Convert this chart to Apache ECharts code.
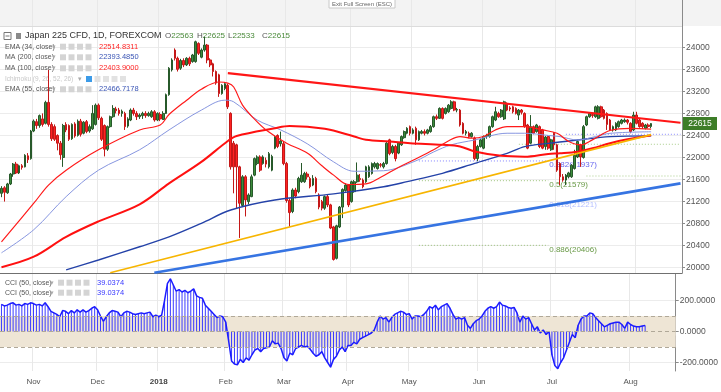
<!DOCTYPE html>
<html><head><meta charset="utf-8">
<script src="https://cdn.jsdelivr.net/npm/echarts@6/dist/echarts.min.js"></script>
<style>html,body{margin:0;padding:0;background:#fff}#c{width:721px;height:392px}</style>
</head><body><div id="c"></div>
<script>
// ---- data ----
const barCount = 232;
const barIndex = Array.from({length: barCount}, (_, i) => String(i));
const monthIndex = [11, 33, 54, 77, 97, 119, 140, 164, 189, 216];
const monthNames = ['Nov', 'Dec', '2018', 'Feb', 'Mar', 'Apr', 'May', 'Jun', 'Jul', 'Aug'];
const priceTicks = [20000, 20400, 20800, 21200, 21600, 22000, 22400, 22800, 23200, 23600, 24000];
const cciTicks = [-200, 0, 200];

const opens = [21350,21450,21360,21520,21700,21880,21720,21850,21830,22030,
21980,22480,22650,22580,22700,22620,23000,22600,22560,22400,
22260,22000,22600,22580,22340,22610,22400,22660,22440,22650,
22480,22520,22600,22950,22710,22580,22150,22560,22740,22880,
22860,22800,22800,22570,22680,22860,22800,22740,22760,22800,
22760,22740,22830,22680,22780,22690,22800,23140,23590,23950,
23800,23620,23760,23680,23800,23740,23740,24070,23820,23950,
24040,23770,23700,23560,23500,23160,23250,23310,22800,22260,
22230,21830,21130,21650,21200,21290,21680,21890,22010,21890,
21950,21830,21770,22170,22400,22250,22250,21890,21220,21020,
21410,21380,21560,21560,21700,21620,21500,21620,21320,21200,
21080,21290,21140,20740,20170,20740,21100,21400,21500,21200,
21380,21560,21620,21590,21560,21650,21710,21830,21800,21870,
21830,21890,22320,22090,22200,22080,22230,22360,22440,22560,
22440,22530,22320,22440,22470,22440,22470,22560,22740,22710,
22890,22800,22830,22890,23010,22860,22860,22620,22440,22440,
22380,22350,21980,22200,22170,22380,22380,22560,22680,22800,
22740,22700,22980,22900,22920,22890,22770,22860,22800,22590,
22260,22560,22470,22560,22500,22200,22380,22140,22440,22230,
21890,21650,21590,21650,21650,21800,22010,22230,22000,22590,
22740,22780,22740,22710,22920,22860,22800,22680,22500,22500,
22560,22620,22650,22680,22620,22500,22770,22680,22620,22530,
22590,22563];
const highs = [21480,21480,21540,21720,21900,21920,21870,21880,22060,22080,
22500,22690,22700,22780,22800,23030,23590,22640,22600,22420,
22300,22610,22640,22600,22620,22640,22690,22700,22660,22680,
22600,22950,22980,22980,22740,22600,22580,22760,22950,22920,
22900,22870,22830,22730,22890,22900,22840,22800,22830,22840,
22830,22860,22860,22820,22820,22840,23160,23640,23800,23980,
23830,23790,23800,23820,23830,23880,24120,24090,23980,24190,
24060,23800,23720,23580,23520,23330,23370,23340,22820,22300,
22250,21850,21680,21680,21350,21690,22000,22040,22040,22040,
22000,22100,22050,22400,22420,22470,22300,21920,21260,21440,
21450,21650,21900,21740,21740,21650,21680,21650,21350,21230,
21310,21320,21160,20760,20780,21120,21440,21530,21520,21580,
21590,21910,21700,21620,21850,21860,21910,21920,21910,21900,
21920,22280,22340,22230,22230,22280,22400,22490,22550,22580,
22530,22560,22490,22500,22510,22520,22590,22760,22780,22910,
22910,22910,22970,23040,23030,22900,22880,22640,22500,22470,
22460,22380,22230,22340,22400,22430,22580,22760,22920,22830,
22880,23030,23000,22930,22940,22910,22880,22880,22820,22610,
22770,22580,22610,22580,22520,22390,22400,22340,22460,22250,
21910,21700,21700,21740,21880,22140,22310,22250,22590,22760,
22820,22810,22940,22950,22940,22880,22820,22700,22580,22640,
22670,22700,22710,22700,22640,22830,22830,22700,22640,22610,
22620,22625];
const lows = [21280,21200,21340,21500,21650,21700,21700,21780,21820,21900,
21960,22460,22520,22540,22560,22600,22560,22300,22300,22130,
21960,21830,22460,22300,22320,22360,22380,22380,22420,22440,
22450,22500,22580,22680,22300,22020,22120,22540,22720,22800,
22760,22740,22500,22540,22660,22760,22680,22700,22700,22720,
22740,22720,22650,22660,22660,22680,22790,23120,23560,23760,
23560,23590,23640,23660,23660,23720,23720,23860,23800,23920,
23710,23640,23470,23320,23100,23140,23220,22880,21780,21350,
21080,20540,21100,20930,21150,21280,21660,21860,21740,21870,
21820,21800,21750,22150,22170,22200,21860,21180,20745,20990,
21260,21350,21540,21540,21600,21440,21480,21350,21060,21040,
21050,21100,20700,20130,20150,20720,20900,21380,21100,21180,
21360,21540,21560,21440,21540,21630,21690,21800,21780,21820,
21800,21870,22040,22060,21930,22060,22210,22340,22420,22400,
22420,22230,22300,22420,22400,22420,22450,22540,22680,22700,
22690,22780,22810,22870,22840,22820,22560,22420,22400,22350,
22360,21950,21930,22180,22150,22340,22360,22540,22660,22720,
22720,22680,22840,22840,22800,22780,22680,22780,22540,22150,
22240,22420,22450,22170,22150,22140,22140,22120,22140,21740,
21500,21560,21500,21620,21630,21780,21990,21830,21980,22570,
22720,22720,22720,22690,22720,22690,22500,22480,22470,22480,
22540,22600,22630,22600,22440,22480,22600,22540,22520,22510,
22530,22533];
const closes = [21440,21370,21520,21700,21880,21720,21850,21820,22040,21960,
22480,22660,22580,22760,22600,23000,22600,22340,22330,22260,
22050,22580,22500,22330,22600,22390,22660,22420,22640,22470,
22560,22800,22950,22720,22330,22150,22560,22740,22890,22850,
22800,22840,22560,22700,22860,22800,22740,22770,22800,22760,
22800,22830,22680,22800,22700,22800,23140,23620,23770,23800,
23600,23760,23680,23800,23700,23860,24100,23890,23950,24040,
23770,23680,23560,23350,23160,23310,23340,22920,21830,21830,
21830,21170,21650,21230,21320,21650,21980,22010,21770,22010,
21880,22070,22020,22380,22200,22300,21890,21220,21000,21410,
21300,21620,21680,21710,21650,21470,21620,21380,21100,21080,
21290,21140,20720,20150,20760,21100,21420,21500,21140,21560,
21560,21680,21600,21470,21830,21830,21890,21890,21890,21860,
21890,22260,22070,22200,21980,22260,22380,22470,22530,22440,
22500,22320,22470,22470,22440,22500,22560,22740,22710,22890,
22710,22890,22950,23010,22860,22870,22590,22440,22470,22380,
22440,21980,22200,22320,22380,22400,22560,22740,22830,22740,
22860,23010,22860,22880,22830,22800,22860,22820,22560,22170,
22560,22440,22590,22200,22170,22370,22170,22320,22230,21770,
21650,21590,21680,21720,21860,22040,22290,22010,22560,22740,
22800,22760,22920,22920,22740,22710,22600,22500,22560,22620,
22650,22680,22680,22640,22470,22770,22620,22560,22560,22590,
22563,22615];

const cciValues = [175,165,170,180,185,170,175,165,180,175,
185,180,170,175,165,185,160,
130,120,110,95,135,130,115,
135,120,140,125,140,125,135,150,160,140,
100,65,95,
120,135,130,125,95,120,130,125,115,
110,115,120,115,120,125,95,105,95,105,
200,310,340,300,
260,270,255,265,250,260,275,230,220,215,
170,150,130,110,90,100,95,60,
-60,-190,-210,
-215,-180,-200,-170,-185,-150,-120,-110,-130,-110,
-105,-100,-60,-80,-75,-110,
-170,-190,-140,-150,-110,-100,-90,-100,-95,-115,-140,-160,-150,-130,-170,
-200,-230,-180,-160,-120,
-100,-130,-90,-90,-70,-80,-50,-40,-30,-20,-10,10,
60,100,80,90,60,90,110,120,130,125,110,
115,80,100,100,95,110,130,160,150,170,140,
160,170,180,150,110,80,90,80,90,40,
20,50,70,80,100,130,150,160,150,160,
190,170,165,155,150,155,120,60,100,80,
90,50,10,30,-10,10,-20,0,
-150,-220,-240,-200,-170,-120,-70,-20,-40,40,80,100,
100,120,115,90,70,50,30,40,50,55,
60,60,45,20,60,45,35,30,30,35,39.0374];

const ema34Pts = [[0,20470],[11,21170],[16,21500],[22,21770],[33,22140],[47,22500],[54,22590],[57,22780],[63,23040],[68,23240],[74,23370],[77,23350],[79,23280],[82,22950],[86,22700],[90,22500],[97,22260],[104,22080],[109,21850],[113,21680],[118,21510],[124,21520],[129,21640],[135,21820],[140,21950],[147,22140],[152,22300],[156,22380],[160,22350],[164,22380],[168,22500],[172,22560],[178,22560],[184,22500],[189,22440],[193,22290],[197,22230],[201,22320],[207,22490],[214,22530],[221,22515]];
const ema55Pts = [[0,20270],[11,20690],[22,21290],[33,21770],[47,22140],[57,22500],[68,22860],[76,23040],[79,23010],[87,22680],[95,22500],[104,22250],[113,21920],[120,21750],[130,21760],[141,21940],[147,22100],[153,22230],[161,22318],[172,22440],[178,22440],[186,22400],[190,22379],[196,22318],[202,22379],[207,22439],[221,22467]];
const ma100Pts = [[0,20010],[11,20200],[22,20560],[33,20840],[47,21150],[57,21530],[68,21920],[77,22300],[80,22390],[93,22530],[98,22570],[110,22520],[120,22380],[124,22320],[132,22290],[139,22260],[150,22230],[156,22200],[161,22110],[170,22030],[178,22015],[186,22065],[190,22076],[196,22106],[201,22167],[207,22258],[213,22330],[221,22404]];
const ma200Pts = [[22,19960],[33,20140],[47,20380],[57,20560],[68,20806],[78,21047],[93,21229],[113,21340],[130,21470],[138,21562],[150,21713],[161,21894],[172,22076],[178,22197],[186,22257],[196,22318],[207,22379],[221,22393]];

const redTrend = [[77,23530],[231,22630]];
const yellowTrend = [[37,19910],[221,22415]];
const blueTrend = [[52,19910],[231,21530]];
const fibLevels = [
  {name:'0.382(21937)', from:142, to:186, value:21937, color:'#8080ff', label:'#6868ee'},
  {name:'0.5(21579)', from:142, to:186, value:21579, color:'#9cc27a', label:'#6a9a48'},
  {name:'0.886(20406)', from:142, to:186, value:20406, color:'#9cc27a', label:'#6a9a48'},
  {name:'0.618(21221)', from:142, to:186, value:21221, color:'rgba(0,0,0,0)', label:'#b4bfff'}
];
const extraLevels = [
  {from:192, to:231, value:22421, color:'#8a8aff'},
  {from:176, to:231, value:22240, color:'#a8cc88'},
  {from:199, to:231, value:21664, color:'#a8cc88'}
];

const legendRows = [
  {name:'EMA (34, close)', value:'22514.8311', color:'#f22'},
  {name:'MA (200, close)', value:'22393.4850', color:'#3a55b5'},
  {name:'MA (100, close)', value:'22403.9000', color:'#f22'},
  {name:'Ichimoku (9, 26, 52, 26)', value:'', color:'#ccc'},
  {name:'EMA (55, close)', value:'22466.7178', color:'#3a55b5'}
];

// ---- chart ----
const isMonth = (i) => monthIndex.indexOf(i) >= 0;
const FONT = '"Liberation Sans", Arial, sans-serif';
const chart = echarts.init(document.getElementById('c'));

const lineSeries = (data, color, width, z) => ({
  type:'line', xAxisIndex:0, yAxisIndex:0, data, symbol:'none', smooth:0.35,
  lineStyle:{color, width}, z, silent:true
});

const series = [];
series.push({
  type:'candlestick', xAxisIndex:0, yAxisIndex:0, barWidth:2.2, z:2,
  data: opens.map((o,i) => [o, closes[i], lows[i], highs[i]]),
  itemStyle:{color:'#3c8c3c', color0:'#ff2222', borderColor:'#27592a', borderColor0:'#c41818', borderWidth:1}
});
fibLevels.forEach(f => series.push({
  type:'line', xAxisIndex:0, yAxisIndex:0, symbol:'none', z:2, silent:true,
  data:[[f.from, f.value],[f.to, f.value]],
  lineStyle:{color:f.color, width:1, type:[1,2]},
  endLabel:{show:true, formatter:f.name, color:f.label, fontSize:8, fontFamily:FONT, distance:1, offset:[0,4]}
}));
extraLevels.forEach(f => series.push({
  type:'line', xAxisIndex:0, yAxisIndex:0, symbol:'none', z:2, silent:true,
  data:[[f.from, f.value],[f.to, f.value]],
  lineStyle:{color:f.color, width:1, type:[1,2]}
}));
series.push(lineSeries(ma200Pts, '#2442a8', 1.4, 3));
series.push(lineSeries(ema55Pts, '#8796e0', 1, 3));
series.push(lineSeries(ma100Pts, '#ff1010', 2, 3));
series.push(lineSeries(ema34Pts, '#ff1a1a', 1.2, 3));
series.push({...lineSeries(yellowTrend, '#f7b500', 1.6, 4), smooth:false});
series.push({...lineSeries(blueTrend, '#3674e2', 2.6, 4), smooth:false});
series.push({...lineSeries(redTrend, '#ff1616', 2.2, 4), smooth:false});

series.push({
  type:'line', xAxisIndex:1, yAxisIndex:1, data:[], symbol:'none', z:1, silent:true,
  markArea:{silent:true, itemStyle:{color:'#eee5d5'}, data:[[{yAxis:100},{yAxis:-100}]]},
  markLine:{silent:true, symbol:'none', label:{show:false}, lineStyle:{color:'#b0a898', type:[4,3], width:1},
    data:[{yAxis:100},{yAxis:0},{yAxis:-100}]}
});
series.push({
  type:'bar', xAxisIndex:1, yAxisIndex:1, data:cciValues, barWidth:1, z:3, silent:true,
  itemStyle:{color:'#3a3aff'}
});
series.push({
  type:'line', xAxisIndex:1, yAxisIndex:1, data:cciValues, symbol:'none', z:4, silent:true,
  lineStyle:{color:'#1c1cff', width:1.5}
});

const option = {
  animation:false, backgroundColor:'#ffffff',
  grid:[{left:0, right:39, top:0, height:273}, {left:0, right:39, top:274, height:97}],
  xAxis:[
    {type:'category', gridIndex:0, data:barIndex, boundaryGap:true,
     axisLine:{show:true, lineStyle:{color:'#707070'}}, axisTick:{show:false}, axisLabel:{show:false},
     splitLine:{show:true, interval:isMonth, lineStyle:{color:'#e8e8e8'}}},
    {type:'category', gridIndex:1, data:barIndex, boundaryGap:true,
     axisLine:{show:true, lineStyle:{color:'#9a9a9a'}},
     axisTick:{show:true, interval:isMonth, length:4, lineStyle:{color:'#aaa'}},
     axisLabel:{interval:isMonth, color:'#555', fontSize:8, fontFamily:FONT, margin:7,
       formatter:(v) => { const k = monthIndex.indexOf(Number(v)); if (k < 0) return ''; const t = monthNames[k]; return t === '2018' ? '{b|2018}' : t; },
       rich:{b:{fontWeight:'bold', color:'#444', fontSize:8, fontFamily:FONT}}},
     splitLine:{show:true, interval:isMonth, lineStyle:{color:'#e8e8e8'}}}
  ],
  yAxis:[
    {type:'value', gridIndex:0, position:'right', min:19904, max:24858,
     axisLine:{show:true, lineStyle:{color:'#8a8a8a'}},
     axisTick:{show:true, customValues:priceTicks, length:3, lineStyle:{color:'#8a8a8a'}},
     axisLabel:{customValues:priceTicks, color:'#555', fontSize:8.5, fontFamily:FONT, margin:4, formatter:(v) => String(v)},
     splitLine:{show:true, lineStyle:{color:'#ececec'}}},
    {type:'value', gridIndex:1, position:'right', min:-255, max:371,
     axisLine:{show:true, lineStyle:{color:'#8a8a8a'}},
     axisTick:{show:true, customValues:cciTicks, length:3, lineStyle:{color:'#8a8a8a'}},
     axisLabel:{customValues:cciTicks, color:'#555', fontSize:8.5, fontFamily:FONT, margin:4, formatter:(v) => v.toFixed(4)},
     splitLine:{show:true, lineStyle:{color:'#ececec'}}}
  ],
  series
};
chart.setOption(option);

// ---- header, legends, price label ----
const G = [];
G.push({type:'rect', z:-1, silent:true, shape:{x:0, y:0, width:721, height:26}, style:{fill:'#f3f3f3'}});
G.push({type:'line', silent:true, shape:{x1:0, y1:26.5, x2:682, y2:26.5}, style:{stroke:'#dcdcdc', lineWidth:1}});
G.push({type:'rect', silent:true, shape:{x:329, y:-1, width:66, height:9}, style:{fill:'#fff', stroke:'#c8c8c8'}});
G.push({type:'text', silent:true, style:{text:'Exit Full Screen (ESC)', x:362, y:4, align:'center', verticalAlign:'middle', fill:'#666', font:'6px ' + FONT}});

G.push({type:'rect', silent:true, shape:{x:4, y:32.5, width:7, height:7}, style:{fill:'#fff', stroke:'#777'}});
G.push({type:'line', silent:true, shape:{x1:5.5, y1:36, x2:9.5, y2:36}, style:{stroke:'#777'}});
G.push({type:'rect', silent:true, shape:{x:16, y:33, width:5, height:6}, style:{fill:'#8a8a8a'}});
G.push({type:'text', silent:true, style:{text:'Japan 225 CFD, 1D, FOREXCOM', x:25, y:36, verticalAlign:'middle', fill:'#333', font:'9px ' + FONT}});
G.push({type:'text', silent:true, style:{text:'\u25BE', x:153, y:36, verticalAlign:'middle', fill:'#999', font:'8px ' + FONT}});
const last = closes.length - 1;
const ohlcText = [['O', opens[last], 165], ['H', highs[last], 197], ['L', lows[last], 228], ['C', closes[last], 262]];
ohlcText.forEach(([k, v, x]) => G.push({type:'text', silent:true, style:{
  text:'{l|' + k + '}{v|' + v + '}', x, y:36, verticalAlign:'middle', font:'8px ' + FONT,
  rich:{l:{fill:'#555', font:'8px ' + FONT}, v:{fill:'#4a8a3a', font:'8px ' + FONT}}}}));

const rowYs = [46.7, 57.3, 68.3, 79, 89.3];
legendRows.forEach((r, k) => {
  const y = rowYs[k];
  const ichi = r.value === '';
  G.push({type:'text', silent:true, style:{text:r.name, x:5, y, verticalAlign:'middle', fill: ichi ? '#c8c8c8' : '#555', font:(ichi ? '6.5px ' : '7px ') + FONT}});
  G.push({type:'text', silent:true, style:{text:'\u25BE', x: ichi ? 78 : 52, y, verticalAlign:'middle', fill:'#aaa', font:'7px ' + FONT}});
  const icons = ichi ? [86, 94.5, 103, 111.5, 120] : [60, 68.5, 77, 85.5];
  icons.forEach((ix, j) => G.push({type:'rect', silent:true, shape:{x:ix, y:y - 3, width:6, height:6},
    style:{fill: (ichi && j === 0) ? '#3c9be8' : (ichi ? '#e2e2e2' : '#d4d4d4')}}));
  if (!ichi) G.push({type:'text', silent:true, style:{text:r.value, x:99, y, verticalAlign:'middle', fill:r.color, font:'7.5px ' + FONT}});
});
[282.7, 292.7].forEach(y => {
  G.push({type:'text', silent:true, style:{text:'CCI (50, close)', x:5, y, verticalAlign:'middle', fill:'#555', font:'7px ' + FONT}});
  G.push({type:'text', silent:true, style:{text:'\u25BE', x:50, y, verticalAlign:'middle', fill:'#aaa', font:'7px ' + FONT}});
  [58, 66.5, 75, 83.5].forEach(ix => G.push({type:'rect', silent:true, shape:{x:ix, y:y - 3, width:6, height:6}, style:{fill:'#d4d4d4'}}));
  G.push({type:'text', silent:true, style:{text:String(cciValues[cciValues.length - 1]), x:97, y, verticalAlign:'middle', fill:'#3a3aff', font:'7.5px ' + FONT}});
});

const py = chart.convertToPixel({yAxisIndex:0}, closes[last]);
G.push({type:'rect', silent:true, shape:{x:683, y:py - 6.5, width:34, height:13}, style:{fill:'#3d7d28'}});
G.push({type:'text', silent:true, style:{text:String(closes[last]), x:700, y:py, align:'center', verticalAlign:'middle', fill:'#fff', font:'8.5px ' + FONT}});

chart.setOption({graphic:G});
</script>
</body></html>
